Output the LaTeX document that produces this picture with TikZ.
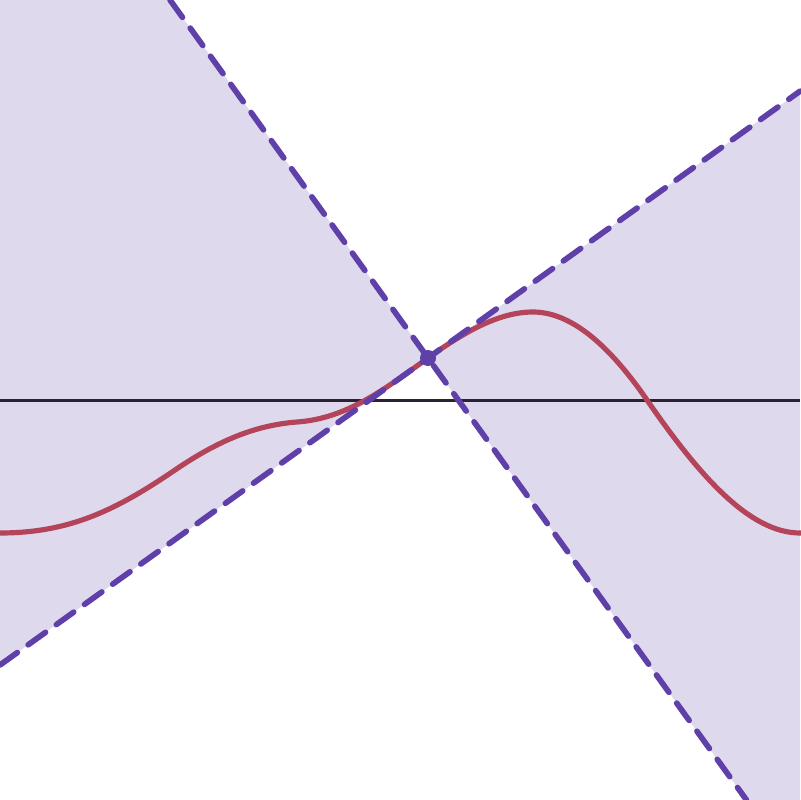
\documentclass[tikz,border=0pt]{standalone}
\definecolor{shadec}{HTML}{DFD9EE}
\definecolor{conec}{HTML}{5F3FA8}
\definecolor{curvec}{HTML}{B4445A}
\definecolor{axisc}{HTML}{2A2233}
\tikzset{
  conel/.style={conec, line width=1.7mm, dash pattern=on 6.4mm off 4mm, line cap=round},
  curvel/.style={curvec, line width=1.55mm},
  axisl/.style={axisc, line width=0.9mm},
}
\begin{document}
\begin{tikzpicture}[x=0.3mm,y=-0.3mm]
\useasboundingbox (0,0) rectangle (800,800);
\coordinate (P) at (428,358);
\coordinate (A1) at (170,0);
\coordinate (B1) at (746.5,800);
\coordinate (A2) at (0,665);
\coordinate (B2) at (800,91.2);
\coordinate (TL) at (0,0);
\coordinate (BR) at (800,800);
\coordinate (AxL) at (0,400);
\coordinate (AxR) at (800,400);
\fill[shadec] (TL) -- (A1) -- (P) -- (A2) -- cycle;
\fill[shadec] (P) -- (B2) -- (BR) -- (B1) -- cycle;
\draw[axisl] (AxL) -- (AxR);
\draw[curvel] (-10,533) -- (0,533)
  .. controls (70,533) and (116.7,509.7) .. (175,470)
  .. controls (212,445) and (250,425.5) .. (297,422)
  .. controls (347,418.5) and (384.3,389.3) .. (P)
  .. controls (463,332.9) and (498,312) .. (533,312)
  .. controls (571,312) and (609,344.9) .. (647,400)
  .. controls (698,474) and (749,533) .. (800,533) -- (810,533);
\draw[conel] (A1) -- (P) -- (B1);
\draw[conel] (A2) -- (P) -- (B2);
\node[circle, fill=conec, inner sep=0pt, minimum size=4.8mm] (pt) at (P) {};
\end{tikzpicture}
\end{document}
